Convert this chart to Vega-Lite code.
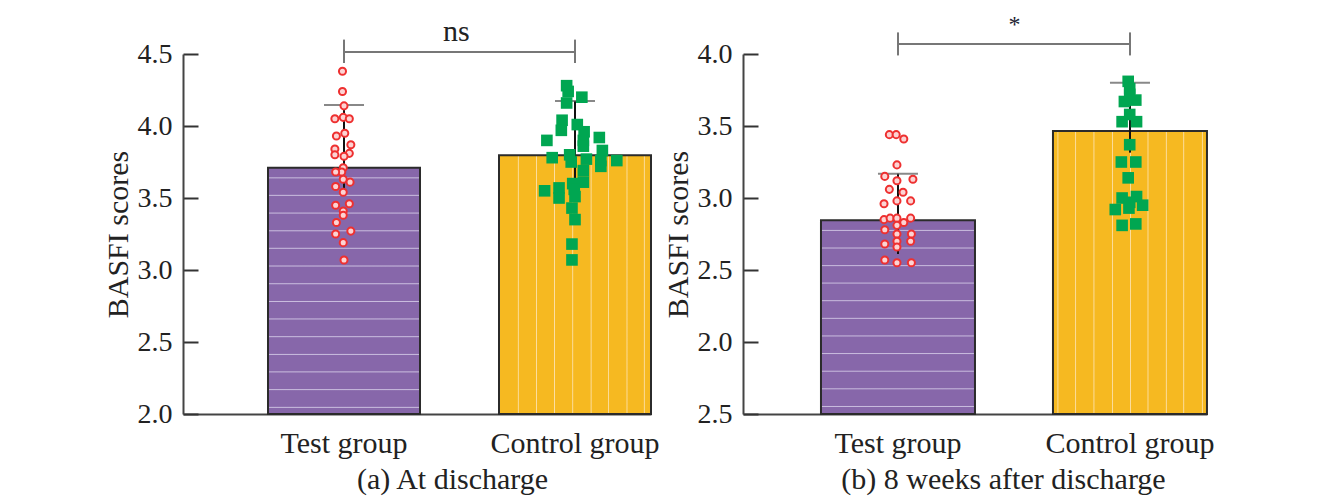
{
"$schema":"https://vega.github.io/schema/vega-lite/v6.json",
"padding":{"left":103,"top":13,"right":10,"bottom":8},
"bounds":"flush",
"spacing":92,
"config":{"view":{"stroke":null},"font":"Liberation Serif","background":"#ffffff"},
"datasets":{
"means":[
{"panel":"a","group":"Test group","mean":3.71,"lo":3.57,"hi":4.146},
{"panel":"a","group":"Control group","mean":3.797,"lo":3.639,"hi":4.174},
{"panel":"b","group":"Test group","mean":2.845,"lo":2.611,"hi":3.169},
{"panel":"b","group":"Control group","mean":3.465,"lo":3.315,"hi":3.801}
],
"points":[
{"panel":"a","group":"Test group","score":4.38,"jit":-0.02},
{"panel":"a","group":"Test group","score":4.24,"jit":-0.02},
{"panel":"a","group":"Test group","score":4.14,"jit":0},
{"panel":"a","group":"Test group","score":4.05,"jit":-0.12},
{"panel":"a","group":"Test group","score":4.06,"jit":-0.01},
{"panel":"a","group":"Test group","score":4.05,"jit":0.07},
{"panel":"a","group":"Test group","score":3.95,"jit":0.01},
{"panel":"a","group":"Test group","score":3.93,"jit":-0.10},
{"panel":"a","group":"Test group","score":3.87,"jit":0.09},
{"panel":"a","group":"Test group","score":3.84,"jit":-0.12},
{"panel":"a","group":"Test group","score":3.80,"jit":-0.12},
{"panel":"a","group":"Test group","score":3.81,"jit":0.07},
{"panel":"a","group":"Test group","score":3.79,"jit":0},
{"panel":"a","group":"Test group","score":3.71,"jit":-0.01},
{"panel":"a","group":"Test group","score":3.68,"jit":-0.03},
{"panel":"a","group":"Test group","score":3.68,"jit":-0.11},
{"panel":"a","group":"Test group","score":3.63,"jit":-0.01},
{"panel":"a","group":"Test group","score":3.61,"jit":0.08},
{"panel":"a","group":"Test group","score":3.58,"jit":-0.11},
{"panel":"a","group":"Test group","score":3.54,"jit":-0.01},
{"panel":"a","group":"Test group","score":3.46,"jit":0.07},
{"panel":"a","group":"Test group","score":3.45,"jit":-0.11},
{"panel":"a","group":"Test group","score":3.41,"jit":-0.01},
{"panel":"a","group":"Test group","score":3.38,"jit":-0.01},
{"panel":"a","group":"Test group","score":3.33,"jit":-0.10},
{"panel":"a","group":"Test group","score":3.27,"jit":0.09},
{"panel":"a","group":"Test group","score":3.25,"jit":-0.11},
{"panel":"a","group":"Test group","score":3.19,"jit":-0.01},
{"panel":"a","group":"Test group","score":3.07,"jit":0},
{"panel":"a","group":"Control group","score":4.28,"jit":-0.11},
{"panel":"a","group":"Control group","score":4.24,"jit":-0.09},
{"panel":"a","group":"Control group","score":4.20,"jit":0.09},
{"panel":"a","group":"Control group","score":4.16,"jit":-0.11},
{"panel":"a","group":"Control group","score":4.04,"jit":-0.17},
{"panel":"a","group":"Control group","score":4.01,"jit":0.03},
{"panel":"a","group":"Control group","score":3.97,"jit":-0.18},
{"panel":"a","group":"Control group","score":3.96,"jit":0.12},
{"panel":"a","group":"Control group","score":3.90,"jit":0.11},
{"panel":"a","group":"Control group","score":3.90,"jit":-0.37},
{"panel":"a","group":"Control group","score":3.92,"jit":0.32},
{"panel":"a","group":"Control group","score":3.86,"jit":0.11},
{"panel":"a","group":"Control group","score":3.83,"jit":0.36},
{"panel":"a","group":"Control group","score":3.80,"jit":-0.07},
{"panel":"a","group":"Control group","score":3.78,"jit":-0.30},
{"panel":"a","group":"Control group","score":3.77,"jit":0.15},
{"panel":"a","group":"Control group","score":3.76,"jit":0.55},
{"panel":"a","group":"Control group","score":3.76,"jit":0.34},
{"panel":"a","group":"Control group","score":3.75,"jit":-0.05},
{"panel":"a","group":"Control group","score":3.72,"jit":0.34},
{"panel":"a","group":"Control group","score":3.69,"jit":0.11},
{"panel":"a","group":"Control group","score":3.61,"jit":0.11},
{"panel":"a","group":"Control group","score":3.60,"jit":-0.03},
{"panel":"a","group":"Control group","score":3.55,"jit":-0.40},
{"panel":"a","group":"Control group","score":3.57,"jit":-0.21},
{"panel":"a","group":"Control group","score":3.50,"jit":-0.21},
{"panel":"a","group":"Control group","score":3.56,"jit":-0.01},
{"panel":"a","group":"Control group","score":3.51,"jit":0},
{"panel":"a","group":"Control group","score":3.43,"jit":-0.04},
{"panel":"a","group":"Control group","score":3.35,"jit":0},
{"panel":"a","group":"Control group","score":3.18,"jit":-0.04},
{"panel":"a","group":"Control group","score":3.07,"jit":-0.04},
{"panel":"b","group":"Test group","score":3.44,"jit":-0.10},
{"panel":"b","group":"Test group","score":3.44,"jit":-0.01},
{"panel":"b","group":"Test group","score":3.41,"jit":0.09},
{"panel":"b","group":"Test group","score":3.23,"jit":0},
{"panel":"b","group":"Test group","score":3.15,"jit":-0.16},
{"panel":"b","group":"Test group","score":3.12,"jit":0},
{"panel":"b","group":"Test group","score":3.13,"jit":0.21},
{"panel":"b","group":"Test group","score":3.06,"jit":-0.10},
{"panel":"b","group":"Test group","score":3.04,"jit":0.08},
{"panel":"b","group":"Test group","score":2.98,"jit":0},
{"panel":"b","group":"Test group","score":2.98,"jit":0.18},
{"panel":"b","group":"Test group","score":2.96,"jit":-0.17},
{"panel":"b","group":"Test group","score":2.85,"jit":-0.17},
{"panel":"b","group":"Test group","score":2.86,"jit":-0.09},
{"panel":"b","group":"Test group","score":2.86,"jit":0},
{"panel":"b","group":"Test group","score":2.86,"jit":0.18},
{"panel":"b","group":"Test group","score":2.83,"jit":0.09},
{"panel":"b","group":"Test group","score":2.81,"jit":0},
{"panel":"b","group":"Test group","score":2.78,"jit":-0.16},
{"panel":"b","group":"Test group","score":2.75,"jit":0},
{"panel":"b","group":"Test group","score":2.75,"jit":0.19},
{"panel":"b","group":"Test group","score":2.70,"jit":0},
{"panel":"b","group":"Test group","score":2.70,"jit":0.18},
{"panel":"b","group":"Test group","score":2.68,"jit":-0.16},
{"panel":"b","group":"Test group","score":2.66,"jit":0},
{"panel":"b","group":"Test group","score":2.57,"jit":-0.16},
{"panel":"b","group":"Test group","score":2.55,"jit":0},
{"panel":"b","group":"Test group","score":2.55,"jit":0.19},
{"panel":"b","group":"Control group","score":3.81,"jit":-0.01},
{"panel":"b","group":"Control group","score":3.76,"jit":0.01},
{"panel":"b","group":"Control group","score":3.67,"jit":-0.06},
{"panel":"b","group":"Control group","score":3.68,"jit":0.09},
{"panel":"b","group":"Control group","score":3.72,"jit":0.01},
{"panel":"b","group":"Control group","score":3.58,"jit":0.01},
{"panel":"b","group":"Control group","score":3.53,"jit":-0.09},
{"panel":"b","group":"Control group","score":3.53,"jit":0.10},
{"panel":"b","group":"Control group","score":3.37,"jit":0.01},
{"panel":"b","group":"Control group","score":3.25,"jit":-0.10},
{"panel":"b","group":"Control group","score":3.25,"jit":0.09},
{"panel":"b","group":"Control group","score":3.14,"jit":-0.01},
{"panel":"b","group":"Control group","score":3.00,"jit":-0.09},
{"panel":"b","group":"Control group","score":3.01,"jit":0.10},
{"panel":"b","group":"Control group","score":2.97,"jit":0.01},
{"panel":"b","group":"Control group","score":2.92,"jit":-0.18},
{"panel":"b","group":"Control group","score":2.95,"jit":0.18},
{"panel":"b","group":"Control group","score":2.93,"jit":0},
{"panel":"b","group":"Control group","score":2.81,"jit":-0.09},
{"panel":"b","group":"Control group","score":2.82,"jit":0.09}
],
"brackets":[
{"panel":"a","group":"Test group","y":4.514,"top":4.6,"bot":4.4375},
{"panel":"a","group":"Control group","y":4.514,"top":4.6,"bot":4.4375},
{"panel":"b","group":"Test group","y":4.07,"top":4.15,"bot":3.99},
{"panel":"b","group":"Control group","y":4.07,"top":4.15,"bot":3.99}
],
"labels":[
{"panel":"a","group":"Control group","label":"ns","y":4.59},
{"panel":"b","group":"Control group","label":"*","y":4.15}
]
},
"hconcat":[
{
"width":468,"height":360,
"encoding":{"x":{"field":"group","type":"nominal","sort":["Test group","Control group"],
 "scale":{"type":"band","paddingInner":0.342,"paddingOuter":0.184,"align":1},
 "axis":{"title":"(a) At discharge","domainColor":"#444","domainWidth":2,"ticks":false,"labelAngle":0,"labelFont":"Liberation Serif","labelFontSize":30,"labelColor":"#222","labelPadding":14,"titleFont":"Liberation Serif","titleFontSize":30,"titleFontWeight":"normal","titleColor":"#222","titlePadding":6,"titleX":269,"titleAlign":"center"}}},
"layer":[
{"data":{"name":"means"},"transform":[{"filter":"datum.panel=='a' && datum.group=='Test group'"}],
 "mark":{"type":"bar","width":152,"stroke":"#2b2b2b","strokeWidth":2,"fill":{"gradient":"linear","x1":0,"y1":0,"x2":0,"y2":1,"stops":[
 {"offset":0,"color":"#8767AA"},
 {"offset":0.037,"color":"#8767AA"},{"offset":0.041,"color":"#CBBFE0"},{"offset":0.045,"color":"#8767AA"},
 {"offset":0.108,"color":"#8767AA"},{"offset":0.112,"color":"#CBBFE0"},{"offset":0.116,"color":"#8767AA"},
 {"offset":0.180,"color":"#8767AA"},{"offset":0.184,"color":"#CBBFE0"},{"offset":0.188,"color":"#8767AA"},
 {"offset":0.252,"color":"#8767AA"},{"offset":0.256,"color":"#CBBFE0"},{"offset":0.260,"color":"#8767AA"},
 {"offset":0.323,"color":"#8767AA"},{"offset":0.327,"color":"#CBBFE0"},{"offset":0.331,"color":"#8767AA"},
 {"offset":0.395,"color":"#8767AA"},{"offset":0.399,"color":"#CBBFE0"},{"offset":0.403,"color":"#8767AA"},
 {"offset":0.467,"color":"#8767AA"},{"offset":0.471,"color":"#CBBFE0"},{"offset":0.475,"color":"#8767AA"},
 {"offset":0.539,"color":"#8767AA"},{"offset":0.543,"color":"#CBBFE0"},{"offset":0.547,"color":"#8767AA"},
 {"offset":0.610,"color":"#8767AA"},{"offset":0.614,"color":"#CBBFE0"},{"offset":0.618,"color":"#8767AA"},
 {"offset":0.682,"color":"#8767AA"},{"offset":0.686,"color":"#CBBFE0"},{"offset":0.690,"color":"#8767AA"},
 {"offset":0.754,"color":"#8767AA"},{"offset":0.758,"color":"#CBBFE0"},{"offset":0.762,"color":"#8767AA"},
 {"offset":0.825,"color":"#8767AA"},{"offset":0.829,"color":"#CBBFE0"},{"offset":0.833,"color":"#8767AA"},
 {"offset":0.897,"color":"#8767AA"},{"offset":0.901,"color":"#CBBFE0"},{"offset":0.905,"color":"#8767AA"},
 {"offset":0.969,"color":"#8767AA"},{"offset":0.973,"color":"#CBBFE0"},{"offset":0.977,"color":"#8767AA"},
 {"offset":1,"color":"#8767AA"}]}},
 "encoding":{"y":{"field":"mean","type":"quantitative","scale":{"domain":[2,4.5],"nice":false,"zero":false},
  "axis":{"title":"BASFI scores","values":[2,2.5,3,3.5,4,4.5],"format":".1f","grid":false,"domainColor":"#444","domainWidth":2,"tickSize":-15,"tickColor":"#333","tickWidth":2,"labelFont":"Liberation Serif","labelFontSize":28,"labelColor":"#222","labelPadding":26,"titleFont":"Liberation Serif","titleFontSize":30,"titleFontWeight":"normal","titleColor":"#222","titlePadding":4}},
  "y2":{"datum":2}}},
{"data":{"name":"means"},"transform":[{"filter":"datum.panel=='a' && datum.group=='Control group'"}],
 "mark":{"type":"bar","width":152,"stroke":"#2b2b2b","strokeWidth":2,"fill":{"gradient":"linear","x1":0,"y1":0,"x2":1,"y2":0,"stops":[
 {"offset":0,"color":"#F6B921"},
 {"offset":0.121,"color":"#F6B921"},{"offset":0.127,"color":"#FCDFA4"},{"offset":0.133,"color":"#F6B921"},
 {"offset":0.241,"color":"#F6B921"},{"offset":0.247,"color":"#FCDFA4"},{"offset":0.253,"color":"#F6B921"},
 {"offset":0.359,"color":"#F6B921"},{"offset":0.365,"color":"#FCDFA4"},{"offset":0.371,"color":"#F6B921"},
 {"offset":0.479,"color":"#F6B921"},{"offset":0.485,"color":"#FCDFA4"},{"offset":0.491,"color":"#F6B921"},
 {"offset":0.600,"color":"#F6B921"},{"offset":0.606,"color":"#FCDFA4"},{"offset":0.612,"color":"#F6B921"},
 {"offset":0.715,"color":"#F6B921"},{"offset":0.721,"color":"#FCDFA4"},{"offset":0.727,"color":"#F6B921"},
 {"offset":0.836,"color":"#F6B921"},{"offset":0.842,"color":"#FCDFA4"},{"offset":0.848,"color":"#F6B921"},
 {"offset":0.950,"color":"#F6B921"},{"offset":0.956,"color":"#FCDFA4"},{"offset":0.962,"color":"#F6B921"},
 {"offset":1,"color":"#F6B921"}]}},
 "encoding":{"y":{"field":"mean","type":"quantitative","scale":{"domain":[2,4.5],"nice":false,"zero":false}},"y2":{"datum":2}}},
{"data":{"name":"means"},"transform":[{"filter":"datum.panel=='a'"}],
 "mark":{"type":"rule","color":"#111","strokeWidth":2},
 "encoding":{"y":{"field":"lo","type":"quantitative","scale":{"domain":[2,4.5],"nice":false,"zero":false}},"y2":{"field":"hi"}}},
{"data":{"name":"means"},"transform":[{"filter":"datum.panel=='a'"}],
 "mark":{"type":"tick","color":"#555","size":40,"thickness":2},
 "encoding":{"y":{"field":"hi","type":"quantitative","scale":{"domain":[2,4.5],"nice":false,"zero":false}}}},
{"data":{"name":"points"},"transform":[{"filter":"datum.panel=='a' && datum.group=='Test group'"}],
 "mark":{"type":"circle","size":50,"fill":"#FCD3D3","stroke":"#EE3030","strokeWidth":2,"opacity":1},
 "encoding":{"y":{"field":"score","type":"quantitative","scale":{"domain":[2,4.5],"nice":false,"zero":false}},
  "xOffset":{"field":"jit","type":"quantitative","scale":{"domain":[-1,1]}}}},
{"data":{"name":"points"},"transform":[{"filter":"datum.panel=='a' && datum.group=='Control group'"}],
 "mark":{"type":"square","size":135,"color":"#00A651","opacity":1},
 "encoding":{"y":{"field":"score","type":"quantitative","scale":{"domain":[2,4.5],"nice":false,"zero":false}},
  "xOffset":{"field":"jit","type":"quantitative","scale":{"domain":[-1,1]}}}},
{"data":{"name":"brackets"},"transform":[{"filter":"datum.panel=='a'"}],
 "mark":{"type":"line","color":"#777","strokeWidth":2},
 "encoding":{"y":{"field":"y","type":"quantitative","scale":{"domain":[2,4.5],"nice":false,"zero":false}}}},
{"data":{"name":"brackets"},"transform":[{"filter":"datum.panel=='a'"}],
 "mark":{"type":"rule","color":"#777","strokeWidth":2},
 "encoding":{"y":{"field":"bot","type":"quantitative","scale":{"domain":[2,4.5],"nice":false,"zero":false}},"y2":{"field":"top"}}},
{"data":{"name":"labels"},"transform":[{"filter":"datum.panel=='a'"}],
 "mark":{"type":"text","font":"Liberation Serif","fontSize":30,"color":"#222","baseline":"alphabetic","align":"center"},
 "encoding":{"x":{"field":"group","type":"nominal","sort":["Test group","Control group"],"bandPosition":-0.28},
  "y":{"field":"y","type":"quantitative","scale":{"domain":[2,4.5],"nice":false,"zero":false}},
  "text":{"field":"label"}}}
]
},
{
"width":464,"height":360,
"encoding":{"x":{"field":"group","type":"nominal","sort":["Test group","Control group"],
 "scale":{"type":"band","paddingInner":0.336,"paddingOuter":0.168,"align":1},
 "axis":{"title":"(b) 8 weeks after discharge","domainColor":"#444","domainWidth":2,"ticks":false,"labelAngle":0,"labelFont":"Liberation Serif","labelFontSize":30,"labelColor":"#222","labelPadding":14,"titleFont":"Liberation Serif","titleFontSize":30,"titleFontWeight":"normal","titleColor":"#222","titlePadding":6,"titleX":260,"titleAlign":"center"}}},
"layer":[
{"data":{"name":"means"},"transform":[{"filter":"datum.panel=='b' && datum.group=='Test group'"}],
 "mark":{"type":"bar","width":154,"stroke":"#2b2b2b","strokeWidth":2,"fill":{"gradient":"linear","x1":0,"y1":0,"x2":0,"y2":1,"stops":[
 {"offset":0,"color":"#8767AA"},
 {"offset":0.047,"color":"#8767AA"},{"offset":0.052,"color":"#CBBFE0"},{"offset":0.057,"color":"#8767AA"},
 {"offset":0.138,"color":"#8767AA"},{"offset":0.143,"color":"#CBBFE0"},{"offset":0.148,"color":"#8767AA"},
 {"offset":0.229,"color":"#8767AA"},{"offset":0.234,"color":"#CBBFE0"},{"offset":0.239,"color":"#8767AA"},
 {"offset":0.319,"color":"#8767AA"},{"offset":0.324,"color":"#CBBFE0"},{"offset":0.329,"color":"#8767AA"},
 {"offset":0.410,"color":"#8767AA"},{"offset":0.415,"color":"#CBBFE0"},{"offset":0.420,"color":"#8767AA"},
 {"offset":0.501,"color":"#8767AA"},{"offset":0.506,"color":"#CBBFE0"},{"offset":0.511,"color":"#8767AA"},
 {"offset":0.592,"color":"#8767AA"},{"offset":0.597,"color":"#CBBFE0"},{"offset":0.602,"color":"#8767AA"},
 {"offset":0.683,"color":"#8767AA"},{"offset":0.688,"color":"#CBBFE0"},{"offset":0.693,"color":"#8767AA"},
 {"offset":0.774,"color":"#8767AA"},{"offset":0.779,"color":"#CBBFE0"},{"offset":0.784,"color":"#8767AA"},
 {"offset":0.865,"color":"#8767AA"},{"offset":0.870,"color":"#CBBFE0"},{"offset":0.875,"color":"#8767AA"},
 {"offset":0.956,"color":"#8767AA"},{"offset":0.961,"color":"#CBBFE0"},{"offset":0.966,"color":"#8767AA"},
 {"offset":1,"color":"#8767AA"}]}},
 "encoding":{"y":{"field":"mean","type":"quantitative","scale":{"domain":[1.5,4],"nice":false,"zero":false},
  "axis":{"title":"BASFI scores","values":[1.5,2,2.5,3,3.5,4],"labelExpr":"datum.value == 1.5 ? '2.5' : format(datum.value, '.1f')","grid":false,"domainColor":"#444","domainWidth":2,"tickSize":-15,"tickColor":"#333","tickWidth":2,"labelFont":"Liberation Serif","labelFontSize":28,"labelColor":"#222","labelPadding":26,"titleFont":"Liberation Serif","titleFontSize":30,"titleFontWeight":"normal","titleColor":"#222","titlePadding":4}},
  "y2":{"datum":1.5}}},
{"data":{"name":"means"},"transform":[{"filter":"datum.panel=='b' && datum.group=='Control group'"}],
 "mark":{"type":"bar","width":154,"stroke":"#2b2b2b","strokeWidth":2,"fill":{"gradient":"linear","x1":0,"y1":0,"x2":1,"y2":0,"stops":[
 {"offset":0,"color":"#F6B921"},
 {"offset":0.026,"color":"#F6B921"},{"offset":0.032,"color":"#FCDFA4"},{"offset":0.038,"color":"#F6B921"},
 {"offset":0.141,"color":"#F6B921"},{"offset":0.147,"color":"#FCDFA4"},{"offset":0.153,"color":"#F6B921"},
 {"offset":0.260,"color":"#F6B921"},{"offset":0.266,"color":"#FCDFA4"},{"offset":0.272,"color":"#F6B921"},
 {"offset":0.380,"color":"#F6B921"},{"offset":0.386,"color":"#FCDFA4"},{"offset":0.392,"color":"#F6B921"},
 {"offset":0.497,"color":"#F6B921"},{"offset":0.503,"color":"#FCDFA4"},{"offset":0.509,"color":"#F6B921"},
 {"offset":0.611,"color":"#F6B921"},{"offset":0.617,"color":"#FCDFA4"},{"offset":0.623,"color":"#F6B921"},
 {"offset":0.730,"color":"#F6B921"},{"offset":0.736,"color":"#FCDFA4"},{"offset":0.742,"color":"#F6B921"},
 {"offset":0.843,"color":"#F6B921"},{"offset":0.849,"color":"#FCDFA4"},{"offset":0.855,"color":"#F6B921"},
 {"offset":0.964,"color":"#F6B921"},{"offset":0.970,"color":"#FCDFA4"},{"offset":0.976,"color":"#F6B921"},
 {"offset":1,"color":"#F6B921"}]}},
 "encoding":{"y":{"field":"mean","type":"quantitative","scale":{"domain":[1.5,4],"nice":false,"zero":false}},"y2":{"datum":1.5}}},
{"data":{"name":"means"},"transform":[{"filter":"datum.panel=='b'"}],
 "mark":{"type":"rule","color":"#111","strokeWidth":2},
 "encoding":{"y":{"field":"lo","type":"quantitative","scale":{"domain":[1.5,4],"nice":false,"zero":false}},"y2":{"field":"hi"}}},
{"data":{"name":"means"},"transform":[{"filter":"datum.panel=='b'"}],
 "mark":{"type":"tick","color":"#555","size":40,"thickness":2},
 "encoding":{"y":{"field":"hi","type":"quantitative","scale":{"domain":[1.5,4],"nice":false,"zero":false}}}},
{"data":{"name":"points"},"transform":[{"filter":"datum.panel=='b' && datum.group=='Test group'"}],
 "mark":{"type":"circle","size":50,"fill":"#FCD3D3","stroke":"#EE3030","strokeWidth":2,"opacity":1},
 "encoding":{"y":{"field":"score","type":"quantitative","scale":{"domain":[1.5,4],"nice":false,"zero":false}},
  "xOffset":{"field":"jit","type":"quantitative","scale":{"domain":[-1,1]}}}},
{"data":{"name":"points"},"transform":[{"filter":"datum.panel=='b' && datum.group=='Control group'"}],
 "mark":{"type":"square","size":135,"color":"#00A651","opacity":1},
 "encoding":{"y":{"field":"score","type":"quantitative","scale":{"domain":[1.5,4],"nice":false,"zero":false}},
  "xOffset":{"field":"jit","type":"quantitative","scale":{"domain":[-1,1]}}}},
{"data":{"name":"brackets"},"transform":[{"filter":"datum.panel=='b'"}],
 "mark":{"type":"line","color":"#777","strokeWidth":2},
 "encoding":{"y":{"field":"y","type":"quantitative","scale":{"domain":[1.5,4],"nice":false,"zero":false}}}},
{"data":{"name":"brackets"},"transform":[{"filter":"datum.panel=='b'"}],
 "mark":{"type":"rule","color":"#777","strokeWidth":2},
 "encoding":{"y":{"field":"bot","type":"quantitative","scale":{"domain":[1.5,4],"nice":false,"zero":false}},"y2":{"field":"top"}}},
{"data":{"name":"labels"},"transform":[{"filter":"datum.panel=='b'"}],
 "mark":{"type":"text","font":"Liberation Serif","fontSize":24,"color":"#223","baseline":"alphabetic","align":"center"},
 "encoding":{"x":{"field":"group","type":"nominal","sort":["Test group","Control group"],"bandPosition":-0.25},
  "y":{"field":"y","type":"quantitative","scale":{"domain":[1.5,4],"nice":false,"zero":false}},
  "text":{"field":"label"}}}
]
}
]
}
